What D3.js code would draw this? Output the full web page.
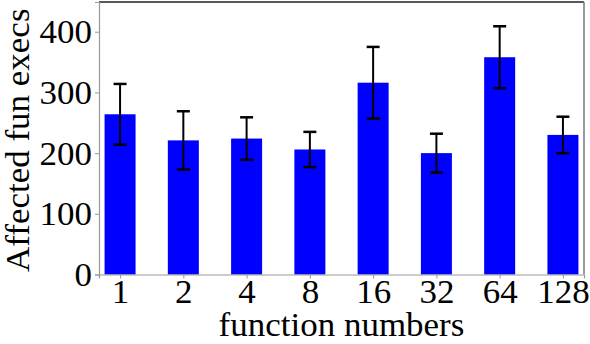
<!DOCTYPE html>
<html><head><meta charset="utf-8">
<script src="https://cdn.jsdelivr.net/npm/d3@7"></script>
<style>body{margin:0;background:#fff}svg{display:block}</style>
</head><body>
<svg id="c" width="590" height="344"></svg>
<script>
const categories = ["1","2","4","8","16","32","64","128"];
const values = [264, 221, 224, 206, 316, 200, 358, 230];
const errors = [50, 48, 35, 29, 59, 32, 51, 30];
const yTicks = [0, 100, 200, 300, 400];
const xTitle = "function numbers";
const yTitle = "Affected fun execs";

const svg = d3.select("#c");
const L = 99, R = 584, T = 2, B = 274.5;
const x = d3.scaleLinear().domain([-0.333, categories.length - 1 + 0.333]).range([L, R]);
const y = d3.scaleLinear().domain([0, 449]).range([B, T]);
const bw = (x(1) - x(0)) * 0.49;
const font = "'Liberation Serif', 'Times New Roman', serif";
const fs = 33;

svg.selectAll("rect.bar").data(values).join("rect")
  .attr("class", "bar")
  .attr("x", (d, i) => x(i) - bw / 2)
  .attr("width", bw)
  .attr("y", d => y(d))
  .attr("height", d => B - y(d))
  .attr("fill", "#0000ff");

const eb = svg.append("g").attr("stroke", "#000").attr("stroke-width", 2);
values.forEach((v, i) => {
  const cx = x(i);
  eb.append("line").attr("x1", cx).attr("x2", cx).attr("y1", y(v - errors[i])).attr("y2", y(v + errors[i]));
  eb.append("line").attr("x1", cx - 6.5).attr("x2", cx + 6.5).attr("y1", y(v + errors[i])).attr("y2", y(v + errors[i])).attr("stroke-width", 2.5);
  eb.append("line").attr("x1", cx - 6.5).attr("x2", cx + 6.5).attr("y1", y(v - errors[i])).attr("y2", y(v - errors[i])).attr("stroke-width", 2.5);
});

// frame
svg.append("line").attr("x1", L).attr("x2", R).attr("y1", T).attr("y2", T).attr("stroke", "#222").attr("stroke-width", 1.5);
svg.append("line").attr("x1", R).attr("x2", R).attr("y1", T).attr("y2", B).attr("stroke", "#777").attr("stroke-width", 1.5);

const yAxis = svg.append("g").attr("transform", `translate(${L},0)`)
  .call(d3.axisLeft(y).tickValues(yTicks).tickSize(4).tickPadding(3));
const xAxis = svg.append("g").attr("transform", `translate(0,${B})`)
  .call(d3.axisBottom(x).tickValues(d3.range(categories.length)).tickFormat(i => categories[i]).tickSize(4).tickPadding(2));
[yAxis, xAxis].forEach(g => {
  g.attr("font-family", font).attr("font-size", fs);
  g.select(".domain").attr("stroke", "#999").attr("stroke-width", 1.2);
  g.selectAll(".tick line").attr("stroke", "#999");
  g.selectAll("text").attr("font-family", font).attr("font-size", fs).attr("fill", "#000");
});
yAxis.selectAll("text").attr("dy", "0.33em");
xAxis.selectAll("text").attr("dy", "0.68em");

svg.append("text").attr("x", (L + R) / 2).attr("y", 336).attr("text-anchor", "middle")
  .attr("font-family", font).attr("font-size", fs).text(xTitle);
svg.append("text").attr("transform", `translate(29,${(T + B) / 2 + 2}) rotate(-90)`).attr("text-anchor", "middle")
  .attr("font-family", font).attr("font-size", fs).text(yTitle);

// slightly wider glyphs, as in the reference
svg.selectAll("text").each(function () {
  const len = this.getComputedTextLength();
  d3.select(this).attr("textLength", len * 1.06).attr("lengthAdjust", "spacingAndGlyphs");
});
</script>
</body></html>
